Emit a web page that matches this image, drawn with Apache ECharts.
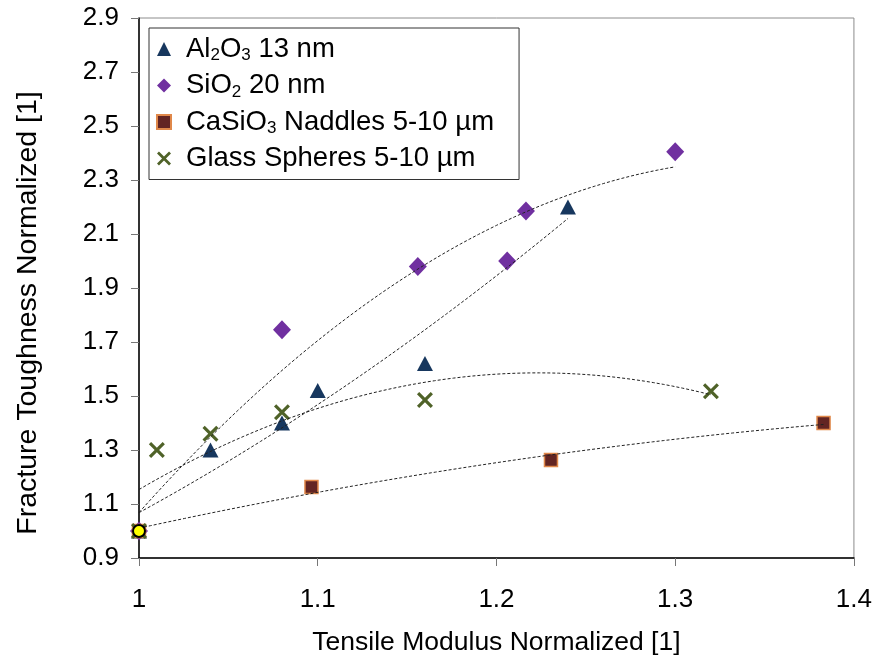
<!DOCTYPE html>
<html>
<head>
<meta charset="utf-8">
<script src="https://cdn.jsdelivr.net/npm/echarts@6/dist/echarts.min.js"></script>
<style>html,body{margin:0;padding:0;background:#fff}#c{width:875px;height:662px}</style>
</head>
<body>
<div id="c"></div>
<script>
// ---- data ----
const seriesNames = ['Al2O3 13 nm', 'SiO2 20 nm', 'CaSiO3 Naddles 5-10 \u00b5m', 'Glass Spheres 5-10 \u00b5m'];
const al2o3X = [1.00, 1.04, 1.08, 1.10, 1.16, 1.24];
const al2o3Y = [1.00, 1.30, 1.40, 1.52, 1.62, 2.20];
const sio2X = [1.00, 1.08, 1.156, 1.206, 1.2165, 1.30];
const sio2Y = [1.00, 1.745, 1.98, 2.00, 2.185, 2.405];
const casio3X = [1.00, 1.0965, 1.2305, 1.383];
const casio3Y = [1.00, 1.163, 1.263, 1.40];
const glassX = [1.00, 1.01, 1.04, 1.08, 1.16, 1.32];
const glassY = [1.00, 1.30, 1.36, 1.44, 1.485, 1.518];
const refPointX = [1.00];
const refPointY = [1.00];
const xTicks = [1, 1.1, 1.2, 1.3, 1.4];
const yTicks = [0.9, 1.1, 1.3, 1.5, 1.7, 1.9, 2.1, 2.3, 2.5, 2.7, 2.9];

// ---- helpers ----
function pairs(xs, ys) { return xs.map((x, i) => [x, ys[i]]); }
// 2nd-order least-squares polynomial trendline (like Excel)
function polyFit2(xs, ys) {
  let s = [0,0,0,0,0], t = [0,0,0];
  for (let i = 0; i < xs.length; i++) {
    const x = xs[i], y = ys[i];
    let p = 1;
    for (let k = 0; k < 5; k++) { s[k] += p; p *= x; }
    t[0] += y; t[1] += y * x; t[2] += y * x * x;
  }
  const A = [[s[0], s[1], s[2], t[0]], [s[1], s[2], s[3], t[1]], [s[2], s[3], s[4], t[2]]];
  for (let c = 0; c < 3; c++) {
    let m = c;
    for (let r = c + 1; r < 3; r++) if (Math.abs(A[r][c]) > Math.abs(A[m][c])) m = r;
    [A[c], A[m]] = [A[m], A[c]];
    for (let r = 0; r < 3; r++) {
      if (r === c) continue;
      const f = A[r][c] / A[c][c];
      for (let k = c; k < 4; k++) A[r][k] -= f * A[c][k];
    }
  }
  const a = A[0][3] / A[0][0], b = A[1][3] / A[1][1], cc = A[2][3] / A[2][2];
  return x => a + b * x + cc * x * x;
}
function trend(xs, ys) {
  const f = polyFit2(xs, ys);
  const x0 = Math.min(...xs), x1 = Math.max(...xs);
  const out = [];
  const n = 60;
  for (let i = 0; i <= n; i++) { const x = x0 + (x1 - x0) * i / n; out.push([x, f(x)]); }
  return out;
}

const xShape = 'path://M0,1.4 L1.4,0 L5,3.6 L8.6,0 L10,1.4 L6.4,5 L10,8.6 L8.6,10 L5,6.4 L1.4,10 L0,8.6 L3.6,5 Z';
const trendStyle = { color: '#222', width: 1, type: [3, 2] };
const legendRich = {
  'Al2O3 13 nm': 'Al{s|2}O{s|3} 13 nm',
  'SiO2 20 nm': 'SiO{s|2} 20 nm',
  'CaSiO3 Naddles 5-10 \u00b5m': 'CaSiO{s|3} Naddles 5-10 \u00b5m',
  'Glass Spheres 5-10 \u00b5m': 'Glass Spheres 5-10 \u00b5m'
};

function trendSeries(xs, ys) {
  return { type: 'line', data: trend(xs, ys), showSymbol: false, symbol: 'none', lineStyle: trendStyle,
           z: 5, silent: true, animation: false, legendHoverLink: false };
}
const FONT = 'Liberation Sans, Arial, sans-serif';

const chart = echarts.init(document.getElementById('c'), null, { renderer: 'canvas' });
chart.setOption({
  animation: false,
  backgroundColor: '#fff',
  textStyle: { fontFamily: FONT },
  grid: { left: 139, top: 18, right: 20, bottom: 104, show: true, borderColor: '#8c8c8c', borderWidth: 1 },
  legend: {
    orient: 'vertical', left: 149, top: 28,
    data: seriesNames,
    itemWidth: 14, itemHeight: 14, itemGap: 6.5,
    padding: [6, 25, 6, 7],
    borderColor: '#333', borderWidth: 1, backgroundColor: '#fff',
    formatter: n => legendRich[n],
    textStyle: { fontSize: 27.5, color: '#000', lineHeight: 30, fontFamily: FONT, padding: [0, 0, 0, 10],
      rich: { s: { fontSize: 17, verticalAlign: 'bottom', lineHeight: 22, fontFamily: FONT } } }
  },
  xAxis: {
    type: 'value', min: 1, max: 1.4, interval: 0.1,
    name: 'Tensile Modulus Normalized [1]', nameLocation: 'middle', nameGap: 71,
    nameTextStyle: { fontSize: 26.5, color: '#000' },
    axisLine: { lineStyle: { color: '#000', width: 1.5 } },
    axisTick: { show: true, length: 8, lineStyle: { color: '#777' } },
    axisLabel: { fontSize: 26, color: '#000', margin: 29, formatter: v => (Math.abs(v - 1) < 1e-9 ? '1' : v.toFixed(1)) },
    splitLine: { show: false }
  },
  yAxis: {
    type: 'value', min: 0.9, max: 2.9, interval: 0.2,
    name: 'Fracture Toughness Normalized [1]', nameLocation: 'middle', nameGap: 96, nameRotate: 90,
    nameTextStyle: { fontSize: 28.5, color: '#000', padding: [0, 50, 0, 0] },
    axisLine: { show: true, lineStyle: { color: '#000', width: 1.5 } },
    axisTick: { show: true, length: 8, lineStyle: { color: '#777' } },
    axisLabel: { fontSize: 26, color: '#000', margin: 20, formatter: v => v.toFixed(1) },
    splitLine: { show: false }
  },
  series: [
    { name: seriesNames[0], type: 'scatter', data: pairs(al2o3X, al2o3Y), symbol: 'triangle', symbolSize: [16, 15],
      itemStyle: { color: '#17375e', opacity: 1 }, z: 3 },
    { name: seriesNames[1], type: 'scatter', data: pairs(sio2X, sio2Y), symbol: 'diamond', symbolSize: [18, 19],
      itemStyle: { color: '#7030a0', opacity: 1 }, z: 3 },
    { name: seriesNames[2], type: 'scatter', data: pairs(casio3X, casio3Y), symbol: 'rect', symbolSize: 13,
      itemStyle: { color: '#632523', borderColor: '#e0884a', borderWidth: 1.5, opacity: 1 }, z: 3 },
    { name: seriesNames[3], type: 'scatter', data: pairs(glassX, glassY), symbol: xShape, symbolSize: 16,
      itemStyle: { color: '#4f6228', opacity: 1 }, z: 3 },
    trendSeries(al2o3X, al2o3Y),
    trendSeries(sio2X, sio2Y),
    trendSeries(casio3X, casio3Y),
    trendSeries(glassX, glassY),
    { name: 'ref', type: 'scatter', data: pairs(refPointX, refPointY), symbol: 'circle', symbolSize: 12,
      itemStyle: { color: '#ffff00', borderColor: '#000', borderWidth: 2, opacity: 1 }, z: 10 }
  ]
});
</script>
</body>
</html>
